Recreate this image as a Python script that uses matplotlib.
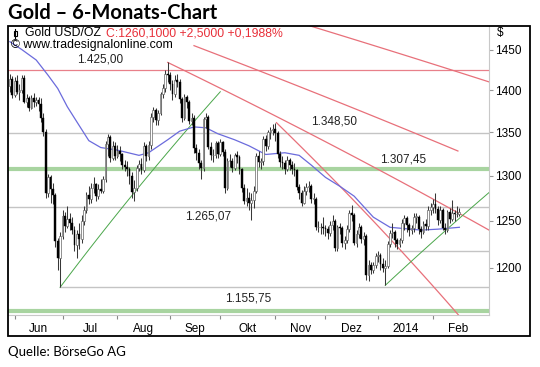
import matplotlib
matplotlib.use('Agg')
import matplotlib.pyplot as plt
import numpy as np
import pandas as pd
from matplotlib.patches import Rectangle
from matplotlib.lines import Line2D
from matplotlib.ticker import FixedLocator, NullLocator, FixedFormatter

# daily OHLC, gold USD/oz (one value per trading day)
opens = [1405, 1413, 1394, 1411, 1398, 1400, 1415, 1386, 1390, 1379,
         1391, 1386, 1388, 1383, 1366, 1350, 1280, 1298, 1285, 1278,
         1228, 1210, 1234, 1255, 1244, 1252, 1248, 1240, 1224, 1236,
         1230, 1250, 1262, 1278, 1274, 1286, 1290, 1277, 1285, 1283,
         1296, 1336, 1344, 1320, 1334, 1322, 1328, 1324, 1312, 1310,
         1308, 1300, 1282, 1286, 1309, 1313, 1306, 1334, 1322, 1335,
         1368, 1376, 1364, 1372, 1395, 1403, 1420, 1418, 1408, 1395,
         1412, 1410, 1389, 1366, 1392, 1386, 1363, 1367, 1331, 1326,
         1314, 1309, 1365, 1368, 1333, 1323, 1323, 1337, 1324, 1338,
         1327, 1286, 1317, 1316, 1309, 1323, 1321, 1307, 1286, 1272,
         1275, 1270, 1273, 1283, 1322, 1315, 1316, 1342, 1334, 1350,
         1352, 1354, 1349, 1324, 1315, 1314, 1308, 1318, 1312, 1308,
         1306, 1287, 1280, 1270, 1283, 1287, 1288, 1274, 1274, 1243,
         1243, 1243, 1242, 1241, 1237, 1245, 1250, 1221, 1243, 1242,
         1226, 1229, 1241, 1258, 1256, 1226, 1236, 1243, 1230, 1234,
         1193, 1203, 1198, 1203, 1212, 1214, 1204, 1200, 1202, 1225,
         1237, 1238, 1229, 1225, 1229, 1248, 1253, 1245, 1240, 1242,
         1254, 1254, 1241, 1238, 1247, 1244, 1262, 1265, 1268, 1263,
         1251, 1262, 1242, 1240, 1260, 1252, 1258, 1257, 1257.6]
highs = [1420, 1417, 1416, 1418, 1408, 1419, 1418, 1395, 1393, 1394,
         1396, 1392, 1392, 1390, 1372, 1353, 1302, 1301, 1292, 1280,
         1232, 1238, 1262, 1260, 1266, 1258, 1254, 1244, 1240, 1248,
         1256, 1266, 1282, 1288, 1292, 1298, 1292, 1290, 1296, 1300,
         1340, 1348, 1346, 1340, 1338, 1335, 1334, 1326, 1318, 1317,
         1310, 1304, 1295, 1312, 1318, 1320, 1338, 1336, 1340, 1372,
         1380, 1378, 1376, 1398, 1408, 1424, 1434, 1422, 1412, 1418,
         1420, 1414, 1392, 1395, 1394, 1388, 1372, 1370, 1336, 1330,
         1318, 1368, 1372, 1370, 1338, 1330, 1340, 1340, 1342, 1340,
         1330, 1320, 1324, 1320, 1326, 1328, 1323, 1309, 1290, 1286,
         1282, 1280, 1288, 1326, 1328, 1320, 1345, 1346, 1352, 1356,
         1360, 1361, 1351, 1328, 1322, 1318, 1322, 1320, 1316, 1314,
         1308, 1290, 1284, 1288, 1292, 1294, 1290, 1280, 1276, 1250,
         1248, 1254, 1246, 1244, 1250, 1256, 1252, 1246, 1248, 1244,
         1234, 1245, 1262, 1267, 1258, 1240, 1248, 1246, 1238, 1236,
         1208, 1206, 1206, 1216, 1218, 1216, 1210, 1208, 1228, 1240,
         1248, 1240, 1232, 1232, 1252, 1256, 1255, 1248, 1246, 1258,
         1258, 1256, 1244, 1250, 1252, 1266, 1270, 1274, 1281, 1266,
         1266, 1264, 1248, 1262, 1264, 1273, 1262, 1266, 1264]
lows = [1398, 1390, 1392, 1395, 1388, 1397, 1384, 1380, 1375, 1377,
        1380, 1381, 1375, 1362, 1345, 1275, 1276, 1270, 1268, 1222,
        1198, 1180, 1230, 1238, 1242, 1240, 1236, 1218, 1210, 1220,
        1226, 1245, 1258, 1268, 1270, 1280, 1272, 1274, 1280, 1281,
        1293, 1322, 1315, 1318, 1318, 1320, 1316, 1308, 1305, 1300,
        1290, 1275, 1272, 1283, 1305, 1302, 1304, 1316, 1318, 1330,
        1362, 1358, 1358, 1370, 1390, 1398, 1410, 1400, 1388, 1392,
        1404, 1385, 1362, 1364, 1378, 1360, 1358, 1326, 1318, 1308,
        1296, 1305, 1355, 1330, 1318, 1315, 1320, 1320, 1322, 1322,
        1280, 1284, 1310, 1304, 1306, 1314, 1302, 1282, 1268, 1266,
        1262, 1251, 1264, 1280, 1310, 1308, 1312, 1328, 1330, 1342,
        1346, 1340, 1320, 1310, 1308, 1302, 1305, 1306, 1302, 1300,
        1284, 1274, 1266, 1268, 1278, 1282, 1270, 1268, 1240, 1238,
        1236, 1236, 1234, 1230, 1234, 1240, 1218, 1218, 1236, 1222,
        1220, 1226, 1238, 1250, 1224, 1222, 1232, 1226, 1224, 1188,
        1186, 1194, 1195, 1200, 1206, 1198, 1196, 1182, 1200, 1222,
        1232, 1222, 1220, 1222, 1226, 1240, 1238, 1234, 1236, 1238,
        1248, 1236, 1232, 1236, 1240, 1240, 1256, 1258, 1258, 1246,
        1248, 1240, 1236, 1238, 1248, 1250, 1250, 1254, 1255]
closes = [1413, 1394, 1411, 1398, 1400, 1415, 1386, 1390, 1379, 1391,
          1386, 1388, 1383, 1366, 1350, 1280, 1298, 1285, 1278, 1228,
          1210, 1234, 1255, 1244, 1252, 1248, 1240, 1224, 1236, 1230,
          1250, 1262, 1278, 1274, 1286, 1290, 1277, 1285, 1283, 1296,
          1336, 1344, 1320, 1334, 1322, 1328, 1324, 1312, 1310, 1308,
          1300, 1282, 1286, 1309, 1313, 1306, 1334, 1322, 1335, 1368,
          1376, 1364, 1372, 1395, 1403, 1420, 1418, 1408, 1395, 1412,
          1410, 1389, 1366, 1392, 1386, 1363, 1367, 1331, 1326, 1314,
          1309, 1365, 1368, 1333, 1323, 1323, 1337, 1324, 1338, 1327,
          1286, 1317, 1316, 1309, 1323, 1321, 1307, 1286, 1272, 1275,
          1270, 1273, 1283, 1322, 1315, 1316, 1342, 1334, 1350, 1352,
          1354, 1349, 1324, 1315, 1314, 1308, 1318, 1312, 1308, 1306,
          1287, 1280, 1270, 1283, 1287, 1288, 1274, 1274, 1243, 1243,
          1243, 1242, 1241, 1237, 1245, 1250, 1221, 1243, 1242, 1226,
          1229, 1241, 1258, 1256, 1226, 1236, 1243, 1230, 1234, 1193,
          1203, 1198, 1203, 1212, 1214, 1204, 1200, 1202, 1225, 1237,
          1238, 1229, 1225, 1229, 1248, 1253, 1245, 1240, 1242, 1254,
          1254, 1241, 1238, 1247, 1244, 1262, 1265, 1268, 1263, 1251,
          1262, 1242, 1240, 1260, 1252, 1258, 1257, 1257.6, 1260.1]

# moving average (blue), read at a few bars
ma_bar = [0, 5, 11, 16, 20, 24, 28, 33, 38, 45, 54, 58, 66, 71, 77, 82, 87,
          94, 100, 107, 115, 121, 126, 132, 138, 144, 152, 159, 172, 179, 188]
ma_val = [1460, 1450, 1437, 1418, 1402, 1380, 1362, 1340, 1332, 1329, 1323,
          1326, 1341, 1351, 1356, 1355, 1348, 1341, 1334, 1324, 1326, 1323,
          1312, 1298, 1288, 1277, 1254, 1243, 1240, 1241, 1243]

# drawn lines: (bar, price) -> (bar, price)
red_trend = [((115, 1490), (200.4, 1410)),
             ((77, 1455), (187.4, 1328)),
             ((66, 1434), (200.4, 1240)),
             ((111.5, 1361), (192, 1140))]
green_trend = [((21, 1180), (88, 1398)),
               ((157, 1182), (200.4, 1281))]

levels = ['1.425,00', '1.348,50', '1.307,45', '1.265,07', '1.155,75']
level_vals = [1425.0, 1348.5, 1307.45, 1265.07, 1155.75]
month_labels = ['Jun', 'Jul', 'Aug', 'Sep', 'Okt', 'Nov', 'Dez', '2014', 'Feb']
y_ticks = [1200, 1250, 1300, 1350, 1400, 1450]

W, H = 540, 367
fig = plt.figure(figsize=(W / 100, H / 100), dpi=100)
ax = fig.add_axes([8 / W, 1 - 315 / H, (489 - 8) / W, (315 - 26) / H])

n = len(closes)
x = np.arange(n)
o = np.array(opens, float)
c = np.array(closes, float)
up = c >= o

# horizontal support / resistance
ax.axhline(level_vals[0], color='#e8808a', lw=0.9, zorder=1)
ax.axhline(level_vals[1], color='#c4c4c4', lw=1.0, zorder=1)
ax.axhline(level_vals[2], color='#a8d4a0', lw=3.0, zorder=1)
ax.axhline(level_vals[3], color='#c4c4c4', lw=1.0, zorder=1)
ax.axhline(level_vals[4], color='#a8d4a0', lw=3.0, zorder=1)
ax.plot([159, 201], [1218, 1218], color='#c4c4c4', lw=1.0, zorder=1)
ax.plot([21, 201], [1180, 1180], color='#c4c4c4', lw=1.0, zorder=1)

for (x0, y0), (x1, y1) in red_trend:
    xs = np.linspace(x0, x1, 60)
    ax.plot(xs, np.interp(xs, [x0, x1], [y0, y1]), color='#e8707a', lw=0.9, zorder=2)
for (x0, y0), (x1, y1) in green_trend:
    xs = np.linspace(x0, x1, 60)
    ax.plot(xs, np.interp(xs, [x0, x1], [y0, y1]), color='#4aa64a', lw=0.7, zorder=2)

ax.plot(ma_bar, ma_val, color='#6b6bdc', lw=0.9, zorder=3)

# candles
ax.vlines(x, lows, highs, color='#383838', lw=0.75, zorder=4)
body_lo = np.minimum(o, c)
body_h = np.maximum(np.abs(c - o), 0.8)
ax.bar(x[up], body_h[up], bottom=body_lo[up], width=0.75,
       color='white', edgecolor='#666666', lw=0.5, zorder=5)
ax.bar(x[~up], body_h[~up], bottom=body_lo[~up], width=0.75,
       color='black', edgecolor='black', lw=0.3, zorder=5)

lab_pos = [(37.7, 1437.5), (135.6, 1362), (164.6, 1318), (82.8, 1255), (99.6, 1169)]
for txt, (lx, ly) in zip(levels, lab_pos):
    ax.text(lx, ly, txt, ha='center', va='center', fontsize=8.5,
            family='Liberation Sans', color='#222222', zorder=6)

ax.set_yscale('log')
ax.set_ylim(1152, 1480)
ax.set_xlim(-0.8, 200.4)

ax.yaxis.tick_right()
ax.yaxis.set_major_locator(FixedLocator(y_ticks))
ax.yaxis.set_major_formatter(FixedFormatter([str(v) for v in y_ticks]))
ax.yaxis.set_minor_locator(NullLocator())
ax.tick_params(axis='y', which='major', direction='out', length=3, width=0.8,
               color='#999999', labelsize=8.5, pad=1.5)

dates = pd.bdate_range('2013-05-30', periods=n)
starts = [i for i in range(n) if i == 0 or dates[i].month != dates[i - 1].month][1:]
mids = [(a + b) / 2 for a, b in zip(starts, starts[1:] + [starts[-1] + 21])]
ax.xaxis.set_major_locator(FixedLocator(starts))
ax.xaxis.set_major_formatter(FixedFormatter([''] * len(starts)))
ax.xaxis.set_minor_locator(FixedLocator(mids))
ax.xaxis.set_minor_formatter(FixedFormatter(month_labels))
ax.tick_params(axis='x', which='major', direction='out', length=3, width=0.8,
               color='#888888')
ax.tick_params(axis='x', which='minor', length=0, labelsize=8.5, pad=6)
for lab in ax.get_xticklabels(minor=True) + ax.get_yticklabels():
    lab.set_family('Liberation Sans')

for s in ['top', 'left']:
    ax.spines[s].set_visible(False)
for s in ['right', 'bottom']:
    ax.spines[s].set_color('#c8c8c8')

# outer frame
fig.add_artist(Rectangle((8 / W, 1 - 336 / H), 522 / W, 310 / H, transform=fig.transFigure,
                         fill=False, ec='black', lw=1.3, zorder=10))

# legend in the chart corner
fig.add_artist(Line2D([15 / W, 15 / W], [1 - 29 / H, 1 - 38 / H], color='black', lw=0.8))
fig.add_artist(Rectangle((13.5 / W, 1 - 36 / H), 3 / W, 5 / H, transform=fig.transFigure,
                         fill=False, ec='black', lw=0.8))
fig.text(25 / W, 1 - 33 / H, 'Gold USD/OZ', fontsize=8.8, family='Liberation Sans',
         va='center', ha='left')
fig.text(106 / W, 1 - 33 / H, 'C:1260,1000 +2,5000 +0,1988%', fontsize=8.8,
         family='Liberation Sans', color='#e8303a', va='center', ha='left')
fig.text(11 / W, 1 - 45 / H, '© www.tradesignalonline.com', fontsize=8.8,
         family='Liberation Sans', va='center', ha='left')
fig.text(497 / W, 1 - 33 / H, '$', fontsize=8.5, family='Liberation Sans',
         va='center', ha='left')

fig.text(8 / W, 1 - 13 / H, 'Gold – 6-Monats-Chart', fontsize=14.5, fontweight='bold',
         family='Lato', va='center', ha='left')
fig.text(8 / W, 1 - 352 / H, 'Quelle: BörseGo AG', fontsize=9.5,
         family='Lato', va='center', ha='left')

fig.savefig('out.png', dpi=100)
